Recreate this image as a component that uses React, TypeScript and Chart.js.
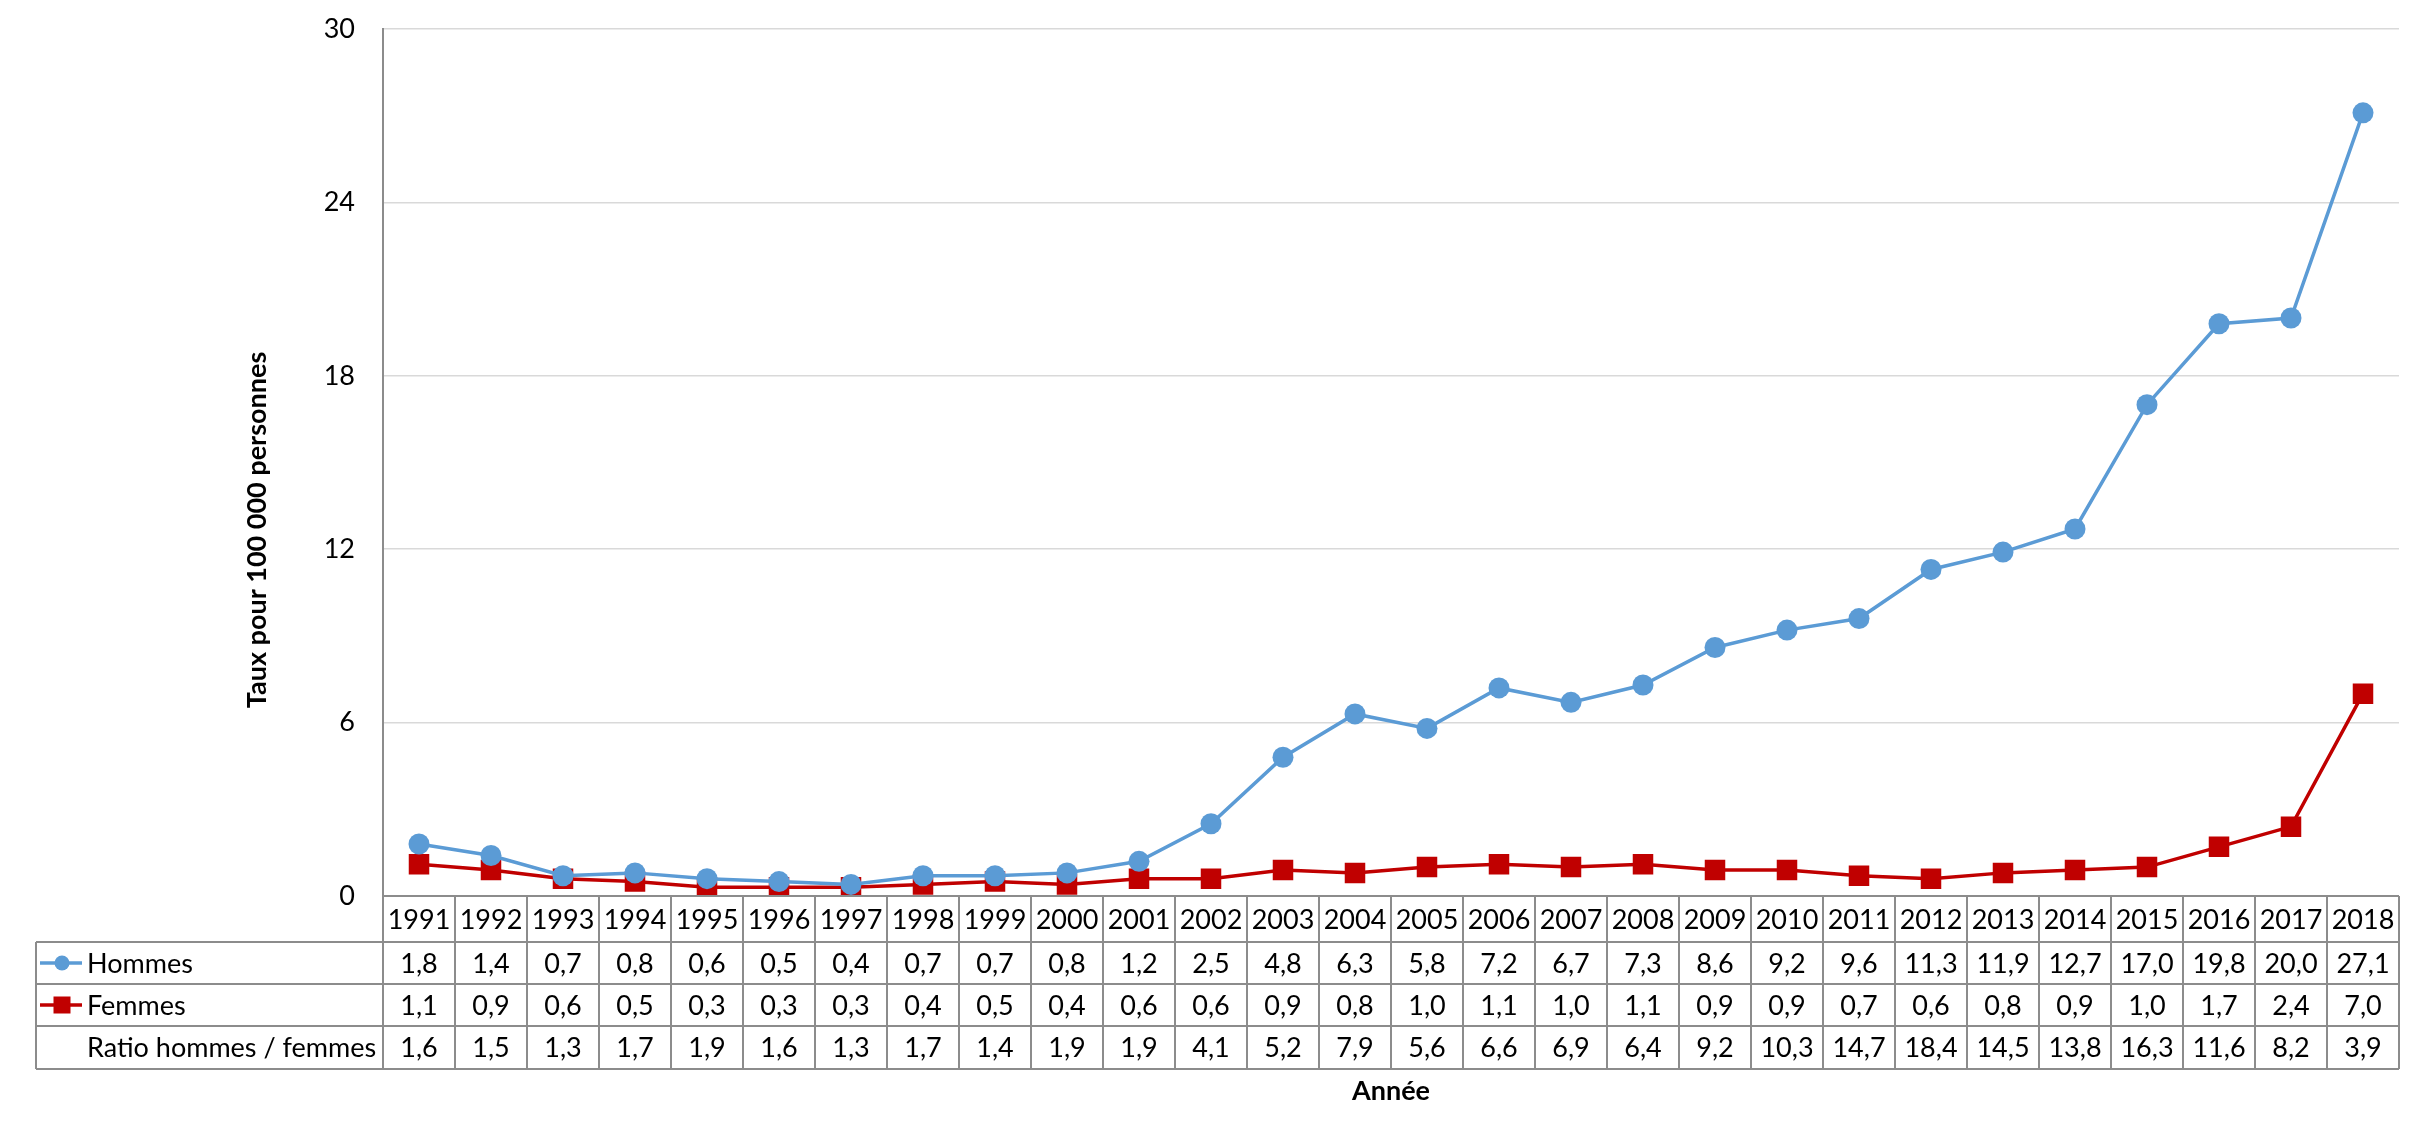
import React, { useEffect, useRef } from "react";
import { Chart, registerables } from "chart.js";

Chart.register(...registerables);

const years = ["1991","1992","1993","1994","1995","1996","1997","1998","1999","2000","2001","2002","2003","2004","2005","2006","2007","2008","2009","2010","2011","2012","2013","2014","2015","2016","2017","2018"];
const hommes = [1.8,1.4,0.7,0.8,0.6,0.5,0.4,0.7,0.7,0.8,1.2,2.5,4.8,6.3,5.8,7.2,6.7,7.3,8.6,9.2,9.6,11.3,11.9,12.7,17.0,19.8,20.0,27.1];
const femmes = [1.1,0.9,0.6,0.5,0.3,0.3,0.3,0.4,0.5,0.4,0.6,0.6,0.9,0.8,1.0,1.1,1.0,1.1,0.9,0.9,0.7,0.6,0.8,0.9,1.0,1.7,2.4,7.0];
const ratio = [1.6,1.5,1.3,1.7,1.9,1.6,1.3,1.7,1.4,1.9,1.9,4.1,5.2,7.9,5.6,6.6,6.9,6.4,9.2,10.3,14.7,18.4,14.5,13.8,16.3,11.6,8.2,3.9];
const yTicks = [0, 6, 12, 18, 24, 30];
const rowLabels = ["Hommes", "Femmes", "Ratio hommes / femmes"];
const yTitle = "Taux pour 100 000 personnes";
const xTitle = "Année";

const BLUE = "#5B9BD5";
const RED = "#C00000";
const FONT = "Lato";
const fmt = (v: number) => v.toFixed(1).replace(".", ",");

const tablePlugin = {
  id: "dataTable",
  afterDraw(chart: any) {
    const ctx = chart.ctx as CanvasRenderingContext2D;
    const xs = chart.scales.x;
    const area = chart.chartArea;
    const n = years.length;
    const left = area.left;
    const right = area.right;
    const colW = (right - left) / n;
    const tableLeft = 36;
    const rowsY = [area.bottom, 942, 984, 1026, 1069];
    ctx.save();
    ctx.strokeStyle = "#8c8c8c";
    ctx.lineWidth = 2;
    ctx.beginPath();
    ctx.moveTo(left, rowsY[0]);
    ctx.lineTo(right, rowsY[0]);
    for (let r = 1; r < rowsY.length; r++) {
      ctx.moveTo(tableLeft, rowsY[r]);
      ctx.lineTo(right, rowsY[r]);
    }
    for (let i = 0; i <= n; i++) {
      const x = left + i * colW;
      ctx.moveTo(x, rowsY[0]);
      ctx.lineTo(x, rowsY[4]);
    }
    ctx.moveTo(tableLeft, rowsY[1]);
    ctx.lineTo(tableLeft, rowsY[4]);
    ctx.stroke();

    ctx.fillStyle = "#000";
    ctx.font = `27px ${FONT}`;
    ctx.textBaseline = "middle";
    ctx.textAlign = "center";
    const rows = [years, hommes.map(fmt), femmes.map(fmt), ratio.map(fmt)];
    for (let r = 0; r < 4; r++) {
      const cy = (rowsY[r] + rowsY[r + 1]) / 2 + 1;
      for (let i = 0; i < n; i++) {
        const cx = xs.getPixelForValue(i);
        ctx.fillText(rows[r][i], cx, cy);
      }
    }
    ctx.textAlign = "left";
    ctx.font = `27px ${FONT}`;
    for (let r = 0; r < 3; r++) {
      const cy = (rowsY[r + 1] + rowsY[r + 2]) / 2 + 1;
      ctx.fillText(rowLabels[r], 87, cy);
    }
    const keyY1 = (rowsY[1] + rowsY[2]) / 2;
    const keyY2 = (rowsY[2] + rowsY[3]) / 2;
    ctx.lineWidth = 3.5;
    ctx.strokeStyle = BLUE;
    ctx.beginPath();
    ctx.moveTo(40, keyY1);
    ctx.lineTo(82, keyY1);
    ctx.stroke();
    ctx.fillStyle = BLUE;
    ctx.beginPath();
    ctx.arc(62, keyY1, 7.5, 0, Math.PI * 2);
    ctx.fill();
    ctx.strokeStyle = RED;
    ctx.beginPath();
    ctx.moveTo(40, keyY2);
    ctx.lineTo(82, keyY2);
    ctx.stroke();
    ctx.fillStyle = RED;
    ctx.fillRect(62 - 8.5, keyY2 - 8.5, 17, 17);

    ctx.fillStyle = "#000";
    ctx.font = `bold 27px ${FONT}`;
    ctx.textAlign = "center";
    ctx.textBaseline = "middle";
    ctx.fillText(xTitle, (left + right) / 2, 1091);
    ctx.translate(257, 530);
    ctx.rotate(-Math.PI / 2);
    ctx.fillText(yTitle, 0, 0);
    ctx.restore();
  },
};

export default function App() {
  const ref = useRef<HTMLCanvasElement | null>(null);
  useEffect(() => {
    document.body.style.margin = "0";
    if (!ref.current) return;
    const chart = new Chart(ref.current, {
      type: "line",
      data: {
        labels: years,
        datasets: [
          {
            label: rowLabels[0],
            data: hommes,
            borderColor: BLUE,
            backgroundColor: BLUE,
            borderWidth: 3.5,
            pointStyle: "circle",
            pointRadius: 10.5,
            pointBorderWidth: 0,
            tension: 0,
          },
          {
            label: rowLabels[1],
            data: femmes,
            borderColor: RED,
            backgroundColor: RED,
            borderWidth: 3.5,
            pointStyle: "rect",
            pointRadius: 14.5,
            pointBorderWidth: 0,
            tension: 0,
          },
        ],
      },
      options: {
        animation: false,
        responsive: true,
        maintainAspectRatio: false,
        devicePixelRatio: 1,
        layout: { padding: { top: 29, bottom: 1134 - 896, right: 25, left: 0 } },
        plugins: { legend: { display: false }, tooltip: { enabled: false }, title: { display: false } },
        scales: {
          x: {
            type: "category",
            offset: true,
            grid: { display: false },
            border: { display: false },
            ticks: { display: false },
            afterFit: (s: any) => { s.height = 0; s.paddingLeft = 0; s.paddingRight = 0; },
          },
          y: {
            min: 0,
            max: 30,
            afterBuildTicks: (s: any) => { s.ticks = yTicks.map((v) => ({ value: v })); },
            ticks: { padding: 28, color: "#000", font: { family: FONT, size: 27 } },
            grid: { color: "#d9d9d9", lineWidth: 1.5, drawTicks: false },
            border: { color: "#8c8c8c", width: 2 },
            afterFit: (s: any) => { s.width = 383; s.paddingTop = 0; s.paddingBottom = 0; },
          },
        },
      },
      plugins: [tablePlugin],
    });
    return () => chart.destroy();
  }, []);
  return (
    <div style={{ position: "absolute", left: 0, top: 0, width: 2424, height: 1134, background: "#fff" }}>
      <canvas ref={ref} />
    </div>
  );
}
